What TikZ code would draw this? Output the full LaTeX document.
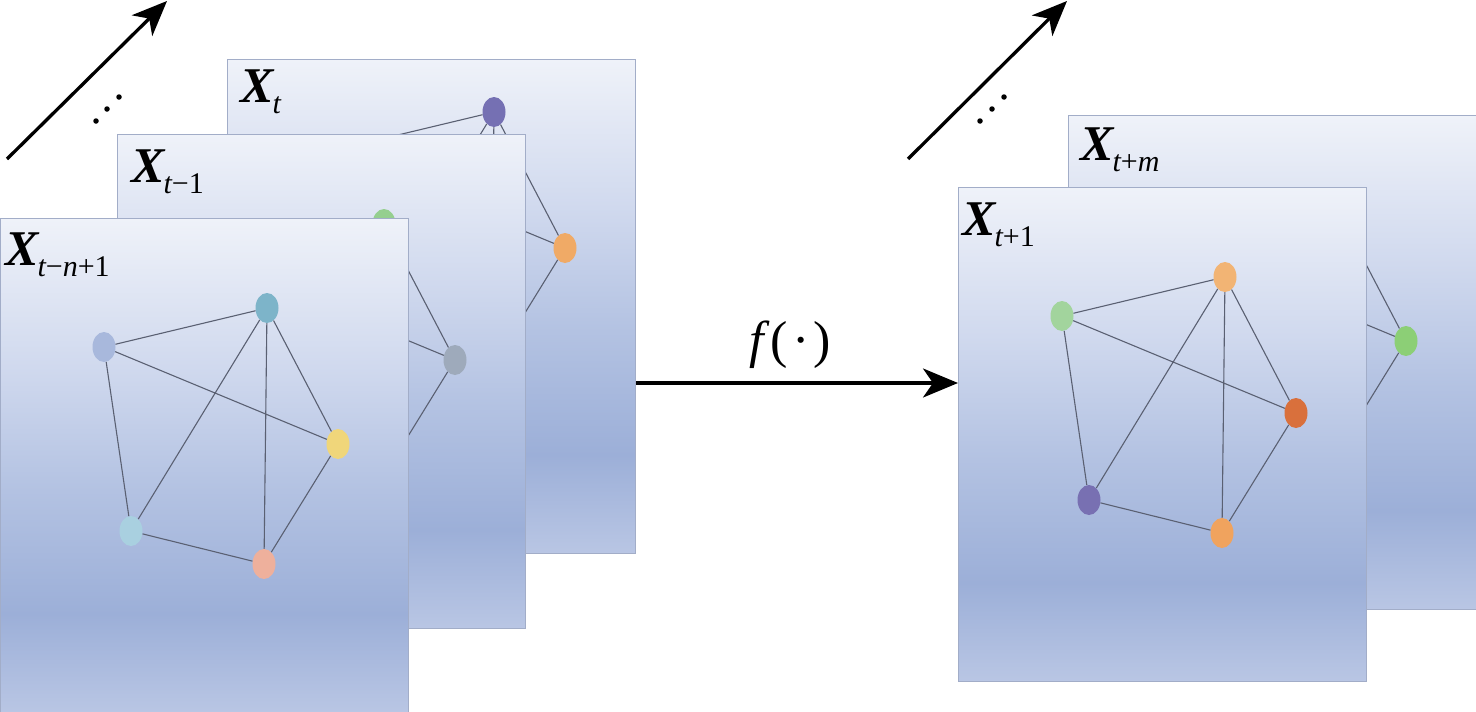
\documentclass[tikz,border=0pt]{standalone}
\usepackage{fontspec}
\setmainfont{Liberation Serif}
\usetikzlibrary{arrows.meta,shapes.geometric}
\definecolor{ptop}{HTML}{EFF2F9}
\definecolor{plight}{HTML}{D0D9EE}
\definecolor{pmid}{HTML}{B3C2E2}
\definecolor{pdark}{HTML}{9CAFD8}
\definecolor{pbot}{HTML}{B9C6E4}
\definecolor{pborder}{HTML}{A2ADC8}
\definecolor{edgecol}{HTML}{5A6072}
% node colours
\definecolor{c1a}{HTML}{A8B8DC}
\definecolor{c1b}{HTML}{7DB4C9}
\definecolor{c1c}{HTML}{F0D67A}
\definecolor{c1d}{HTML}{EEB09C}
\definecolor{c1e}{HTML}{A9D0E0}
\definecolor{c2a}{HTML}{B0C4E0}
\definecolor{c2b}{HTML}{95CF8F}
\definecolor{c2c}{HTML}{9EAABB}
\definecolor{c2d}{HTML}{C0C0D0}
\definecolor{c2e}{HTML}{C0D0E0}
\definecolor{c3a}{HTML}{A0B0D8}
\definecolor{c3b}{HTML}{7570B3}
\definecolor{c3c}{HTML}{F0AA66}
\definecolor{c3d}{HTML}{A0C8D8}
\definecolor{c3e}{HTML}{E0B0A0}
\definecolor{c4a}{HTML}{A2D49D}
\definecolor{c4b}{HTML}{F2B474}
\definecolor{c4c}{HTML}{D9703C}
\definecolor{c4d}{HTML}{F0A35E}
\definecolor{c4e}{HTML}{7870B2}
\definecolor{c5a}{HTML}{A0B0D8}
\definecolor{c5b}{HTML}{F0B070}
\definecolor{c5c}{HTML}{8CCF76}
\definecolor{c5d}{HTML}{E0A070}
\definecolor{c5e}{HTML}{8080B0}
\pgfdeclareverticalshading{panelshade}{100bp}{color(0bp)=(pbot); color(25bp)=(pbot); color(35bp)=(pdark); color(47.5bp)=(pmid); color(60bp)=(plight); color(75bp)=(ptop); color(100bp)=(ptop)}
\newcommand{\pentagraph}[6]{%
  \node[vert,fill=#2] (#1a) at (104,129) {};
  \node[vert,fill=#3] (#1b) at (267,90) {};
  \node[vert,fill=#4] (#1c) at (338,226) {};
  \node[vert,fill=#5] (#1d) at (264,346) {};
  \node[vert,fill=#6] (#1e) at (131,313) {};
  \draw[edge] (#1a)--(#1b) (#1a)--(#1c) (#1a)--(#1e) (#1b)--(#1e)
    (#1b)--(#1d) (#1b)--(#1c) (#1c)--(#1d) (#1e)--(#1d);
}
\newcommand{\Xlab}[1]{{\fontsize{50}{50}\selectfont\bfseries\itshape X}\kern-1pt\raisebox{-11pt}{\fontsize{30}{30}\selectfont #1}}
\begin{document}
\begin{tikzpicture}[x=1pt,y=-1pt,
  panel/.style={rectangle, draw=pborder, line width=1.3pt, shading=panelshade,
    minimum width=408pt, minimum height=494pt, inner sep=0pt, anchor=north west},
  vert/.style={ellipse, minimum width=23pt, minimum height=30pt, inner sep=0pt, draw=none},
  edge/.style={draw=edgecol, line width=1.1pt},
  lab/.style={anchor=base west, inner sep=0pt},
  bigarrow/.style={line width=3.3pt, -{Stealth[length=35pt,width=29pt,inset=10pt]}},
  dotmark/.style={circle, fill=black, inner sep=0pt, minimum size=5.5pt}]
\useasboundingbox (0,0) rectangle (1476,712);

% panel X_t
\node[panel] (pC) at (227,59) {};
\begin{scope}[shift={(227,22)}]
  \pentagraph{C}{c3a}{c3b}{c3c}{c3d}{c3e}
\end{scope}
\node[lab] (lC) at (240,102) {\Xlab{\itshape t}};

% panel X_{t-1}
\node[panel] (pB) at (117,134) {};
\begin{scope}[shift={(117,134)}]
  \pentagraph{B}{c2a}{c2b}{c2c}{c2d}{c2e}
\end{scope}
\node[lab] (lB) at (131,182) {\Xlab{{\itshape t}−1}};

% panel X_{t-n+1}
\node[panel] (pA) at (0,218) {};
\begin{scope}[shift={(0,218)}]
  \pentagraph{A}{c1a}{c1b}{c1c}{c1d}{c1e}
\end{scope}
\node[lab] (lA) at (5,265) {\Xlab{{\itshape t}−{\itshape n}+1}};

% panel X_{t+m}
\node[panel] (pD) at (1068,115) {};
\begin{scope}[shift={(1068,115)}]
  \pentagraph{D}{c5a}{c5b}{c5c}{c5d}{c5e}
\end{scope}
\node[lab] (lD) at (1080,160) {\Xlab{{\itshape t}+{\itshape m}}};

% panel X_{t+1}
\node[panel] (pE) at (958,187) {};
\begin{scope}[shift={(958,187)}]
  \pentagraph{E}{c4a}{c4b}{c4c}{c4d}{c4e}
\end{scope}
\node[lab] (lE) at (962,235) {\Xlab{{\itshape t}+1}};

% mapping arrow
\coordinate (fy) at (0,383);
\draw[bigarrow] (pC.east |- fy) -- (pE.west |- fy);
\node (flab) at (790,345) {\fontsize{52}{52}\selectfont{\itshape f}\kern7pt(\kern4pt·\kern4pt)};

% time arrows
\coordinate (t1s) at (7,159);
\coordinate (t1e) at (167,1);
\draw[bigarrow] (t1s) -- (t1e);
\node[dotmark] (d11) at (96,121) {};
\node[dotmark] (d12) at (107,109) {};
\node[dotmark] (d13) at (119,97) {};
\coordinate (t2s) at (908,159);
\coordinate (t2e) at (1067,1);
\draw[bigarrow] (t2s) -- (t2e);
\node[dotmark] (d21) at (980,121) {};
\node[dotmark] (d22) at (992,109) {};
\node[dotmark] (d23) at (1004,97) {};
\end{tikzpicture}
\end{document}
